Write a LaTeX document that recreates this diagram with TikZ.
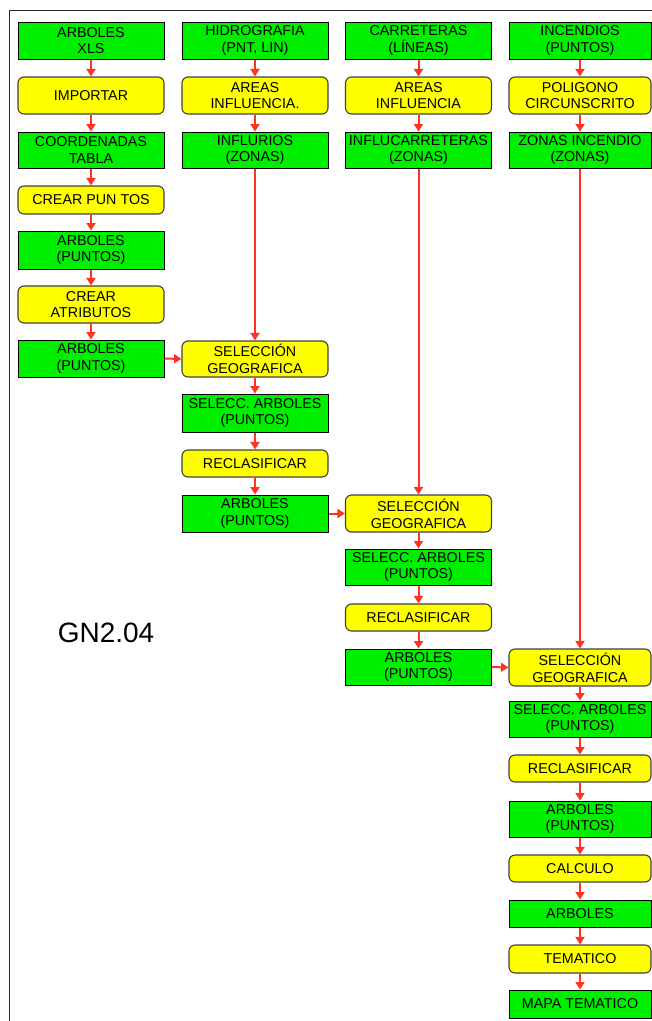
\documentclass[tikz,border=0pt]{standalone}
\usepackage{fontspec}
\setmainfont{Liberation Sans}
\usetikzlibrary{arrows.meta}
\definecolor{boxgreen}{RGB}{0,238,0}
\definecolor{boxyellow}{RGB}{255,255,0}
\definecolor{flowred}{RGB}{255,51,34}
\definecolor{framegray}{RGB}{40,40,40}
\begin{document}
\begin{tikzpicture}[x=1pt,y=-1pt,
  base/.style={inner sep=0pt, align=center, text=black,
    font=\fontsize{14.3}{16.8}\selectfont, minimum width=146pt},
  gbox/.style={base, draw=black, line width=1pt, fill=boxgreen},
  ybox/.style={base, draw=black!75, line width=1.1pt, fill=boxyellow, rounded corners=6pt},
  flow/.style={draw=flowred, line width=2pt, -{Triangle[length=7.5pt,width=9pt]}}
]
\useasboundingbox (0,0) rectangle (652,1021);
% sheet frame
\draw[framegray, line width=1.5pt] (9.5,1021) -- (9.5,10.5) -- (652,10.5);

% column 1
\node[gbox, minimum height=37pt] (a1) at (91,40.5) {ARBOLES\\XLS};
\node[ybox, minimum height=37pt] (a2) at (91,95.5) {IMPORTAR};
\node[gbox, minimum height=36pt] (a3) at (91,150) {COORDENADAS\\TABLA};
\node[ybox, minimum height=28pt] (a4) at (91,200) {CREAR PUN TOS};
\node[gbox, minimum height=38pt] (a5) at (91,250) {ARBOLES\\(PUNTOS)};
\node[ybox, minimum height=37pt] (a6) at (91,304.5) {CREAR\\ATRIBUTOS};
\node[gbox, minimum height=37pt] (a7) at (91,358.5) {ARBOLES\\(PUNTOS)};

% column 2
\node[gbox, minimum height=37pt] (b1) at (255,40.5) {HIDROGRAFIA\\(PNT, LIN)};
\node[ybox, minimum height=37pt] (b2) at (255,95.5) {AREAS\\INFLUENCIA.};
\node[gbox, minimum height=36pt] (b3) at (255,150) {INFLURIOS\\(ZONAS)};
\node[ybox, minimum height=36pt] (b4) at (255,359) {SELECCIÓN\\GEOGRAFICA};
\node[gbox, minimum height=38pt] (b5) at (255,413) {SELECC. ARBOLES\\(PUNTOS)};
\node[ybox, minimum height=27pt] (b6) at (255,463.5) {RECLASIFICAR};
\node[gbox, minimum height=37pt] (b7) at (255,513.5) {ARBOLES\\(PUNTOS)};

% column 3
\node[gbox, minimum height=37pt] (c1) at (418.5,40.5) {CARRETERAS\\(LÍNEAS)};
\node[ybox, minimum height=37pt] (c2) at (418.5,95.5) {AREAS\\INFLUENCIA};
\node[gbox, minimum height=36pt] (c3) at (418.5,150) {INFLUCARRETERAS\\(ZONAS)};
\node[ybox, minimum height=37pt] (c4) at (418.5,513.5) {SELECCIÓN\\GEOGRAFICA};
\node[gbox, minimum height=36pt] (c5) at (418.5,567) {SELECC. ARBOLES\\(PUNTOS)};
\node[ybox, minimum height=27pt] (c6) at (418.5,617.5) {RECLASIFICAR};
\node[gbox, minimum height=36pt] (c7) at (418.5,667) {ARBOLES\\(PUNTOS)};

% column 4
\tikzset{col4/.style={minimum width=142pt}}
\node[gbox, col4, minimum height=37pt] (d1) at (580,40.5) {INCENDIOS\\(PUNTOS)};
\node[ybox, col4, minimum height=37pt] (d2) at (580,95.5) {POLIGONO\\CIRCUNSCRITO};
\node[gbox, col4, minimum height=36pt] (d3) at (580,150) {ZONAS INCENDIO\\(ZONAS)};
\node[ybox, col4, minimum height=37pt] (d4) at (580,667.5) {SELECCIÓN\\GEOGRAFICA};
\node[gbox, col4, minimum height=36pt] (d5) at (580,719) {SELECC. ARBOLES\\(PUNTOS)};
\node[ybox, col4, minimum height=27pt] (d6) at (580,768.5) {RECLASIFICAR};
\node[gbox, col4, minimum height=36pt] (d7) at (580,819) {ARBOLES\\(PUNTOS)};
\node[ybox, col4, minimum height=27pt] (d8) at (580,868.5) {CALCULO};
\node[gbox, col4, minimum height=27pt] (d9) at (580,913.5) {ARBOLES};
\node[ybox, col4, minimum height=28pt] (d10) at (580,959) {TEMATICO};
\node[gbox, col4, minimum height=28pt] (d11) at (580,1004) {MAPA TEMATICO};

% sheet label
\node[inner sep=0pt, font=\fontsize{28}{30}\selectfont] (lbl) at (106,633) {GN2.04};

% vertical flows
\foreach \p/\q in {a1/a2,a2/a3,a3/a4,a4/a5,a5/a6,a6/a7,
                   b1/b2,b2/b3,b3/b4,b4/b5,b5/b6,b6/b7,
                   c1/c2,c2/c3,c3/c4,c4/c5,c5/c6,c6/c7,
                   d1/d2,d2/d3,d3/d4,d4/d5,d5/d6,d6/d7,d7/d8,d8/d9,d9/d10,d10/d11}
  \draw[flow] (\p.south) -- (\q.north);

% horizontal flows between columns
\draw[flow] (a7.east) -- (b4.west);
\draw[flow] (b7.east) -- (c4.west);
\draw[flow] (c7.east) -- (d4.west);
\end{tikzpicture}
\end{document}
